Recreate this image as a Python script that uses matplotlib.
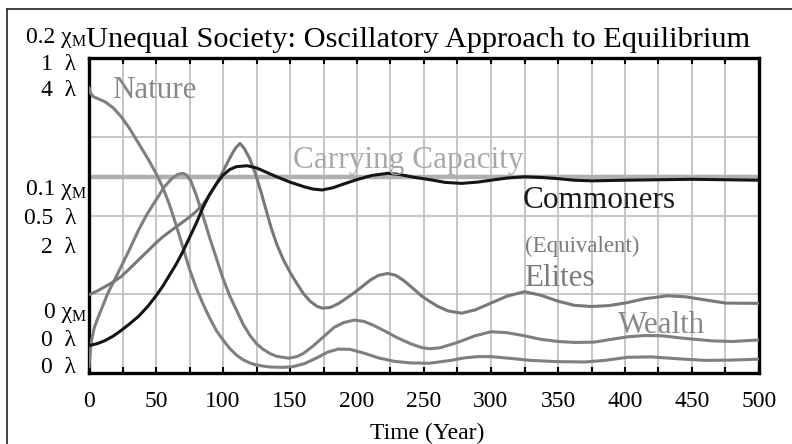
import numpy as np
import matplotlib.pyplot as plt
from matplotlib.lines import Line2D

plt.rcParams['font.family'] = ['Liberation Serif', 'DejaVu Serif']

# values
# commoners and elites in chi_M, nature and wealth in lambda
commoner_years = [0, 6, 12, 18, 24, 30, 37, 44, 50, 55, 60, 65, 70, 75, 80, 85, 90, 95, 100, 105,
                  110, 118, 125, 132, 140, 150, 160, 167, 174, 182, 190, 200, 211, 223, 232, 243,
                  254, 266, 278, 290, 300, 312, 325, 337, 350, 362, 375, 400, 450, 500]
commoners = [0.0174, 0.0186, 0.0206, 0.0234, 0.027, 0.031, 0.036, 0.0424, 0.049, 0.055, 0.062,
             0.069, 0.077, 0.086, 0.095, 0.105, 0.1134, 0.12, 0.1256, 0.1292, 0.131, 0.1316,
             0.1302, 0.1276, 0.1246, 0.1212, 0.1184, 0.1168, 0.1162, 0.1176, 0.12, 0.1228,
             0.1254, 0.1268, 0.126, 0.1242, 0.1228, 0.121, 0.1204, 0.1212, 0.1224, 0.1238,
             0.1246, 0.1242, 0.1234, 0.1224, 0.122, 0.1224, 0.123, 0.1224]

elite_years = [0, 6, 12, 18, 24, 30, 37, 44, 50, 55, 60, 67, 75, 80, 85, 90, 95, 100, 105, 109,
               112.7, 116, 120, 124, 128, 132, 136, 140, 145, 150, 155, 160, 165, 170, 174, 180,
               186, 192, 198, 204, 210, 216, 223, 229, 235, 242, 248, 254, 260, 268, 278, 288,
               300, 312, 325, 337, 350, 362, 375, 388, 400, 415, 432, 445, 460, 475, 500]
elites = [0.0496, 0.052, 0.0548, 0.0578, 0.0612, 0.066, 0.0718, 0.0776, 0.0826, 0.0864, 0.0896,
          0.094, 0.099, 0.1026, 0.107, 0.113, 0.12, 0.128, 0.1364, 0.1424, 0.1458, 0.1424, 0.136,
          0.127, 0.116, 0.104, 0.092, 0.082, 0.072, 0.064, 0.057, 0.0504, 0.0456, 0.0424, 0.0412,
          0.0416, 0.044, 0.0474, 0.051, 0.055, 0.059, 0.062, 0.0632, 0.062, 0.0586, 0.0536, 0.049,
          0.0456, 0.0424, 0.0394, 0.038, 0.04, 0.0444, 0.0488, 0.0516, 0.0494, 0.0456, 0.043,
          0.0422, 0.0428, 0.0444, 0.0472, 0.049, 0.0484, 0.0464, 0.0444, 0.0442]

nature_years = [0, 1, 3, 6, 12, 18, 24, 30, 37, 44, 50, 55, 60, 65, 70, 75, 80, 85, 90, 95, 100,
                105, 110, 115, 120, 125, 135, 145, 152, 161, 170, 178, 186, 195, 206, 216, 228,
                240, 254, 270, 280, 290, 300, 313, 330, 350, 370, 385, 402, 420, 440, 460, 480, 500]
nature = [0.905, 0.89, 0.878, 0.872, 0.861, 0.842, 0.814, 0.778, 0.729, 0.68, 0.634, 0.59, 0.535,
          0.47, 0.40, 0.33, 0.27, 0.22, 0.175, 0.135, 0.105, 0.078, 0.057, 0.042, 0.032, 0.025,
          0.019, 0.018, 0.02, 0.03, 0.048, 0.066, 0.076, 0.075, 0.062, 0.048, 0.037, 0.032, 0.031,
          0.04, 0.048, 0.052, 0.052, 0.047, 0.04, 0.036, 0.035, 0.04, 0.05, 0.051, 0.045, 0.04,
          0.041, 0.044]

wealth_years = [0, 1, 2, 4, 7, 10, 14, 19, 24, 30, 37, 43, 50, 56, 62, 66, 70, 73, 76, 80, 85, 90,
                95, 100, 105, 110, 115, 120, 125, 130, 135, 140, 149, 155, 160, 167, 175, 183, 190,
                198, 205, 212, 220, 230, 240, 248, 254, 262, 275, 288, 300, 312, 325, 337, 350,
                363, 377, 390, 402, 415, 428, 440, 452, 465, 480, 500]
wealth = [0.08, 0.28, 0.42, 0.58, 0.716, 0.84, 1.012, 1.18, 1.352, 1.56, 1.816, 2.008, 2.196,
          2.36, 2.472, 2.52, 2.536, 2.512, 2.44, 2.26, 2.0, 1.72, 1.46, 1.2, 0.98, 0.8, 0.62, 0.48,
          0.372, 0.3, 0.248, 0.212, 0.188, 0.208, 0.248, 0.34, 0.46, 0.58, 0.64, 0.672, 0.656,
          0.608, 0.54, 0.448, 0.372, 0.324, 0.308, 0.32, 0.388, 0.472, 0.524, 0.512, 0.472, 0.428,
          0.4, 0.388, 0.392, 0.428, 0.46, 0.476, 0.472, 0.448, 0.428, 0.408, 0.4, 0.42]

carrying_capacity = 0.1246  # chi_M

chi_max, nature_max, wealth_max = 0.2, 1, 4

W, H = 792, 444
fig = plt.figure(figsize=(W / 100, H / 100), dpi=100)

def fx(x):
    return x / W

def fy(y):
    return 1 - y / H

ax = fig.add_axes([fx(89), fy(373), (759 - 89) / W, (373 - 58) / H])
ax.set_xlim(0, 500)
ax.set_ylim(0, chi_max)
ax.set_xticks(np.arange(0, 501, 50))
ax.set_xticks(np.arange(25, 500, 50), minor=True)
ax.set_yticks([0.05, 0.1, 0.15])
ax.set_yticklabels([])
ax.grid(True, which='both', axis='x', color='#c2c2c2', lw=1.3)
ax.grid(True, axis='y', color='#c2c2c2', lw=1.3)
ax.set_axisbelow(True)
ax.tick_params(axis='x', which='both', direction='in', length=4, width=1.5, top=True,
               labelsize=17, pad=13)
ax.tick_params(axis='y', length=0)
for s in ax.spines.values():
    s.set_linewidth(2.4)
    s.set_color('black')

ax.axhline(carrying_capacity, color='#b0b0b0', lw=3.2, zorder=2)

axn = ax.twinx()
axn.set_ylim(0, nature_max)
axw = ax.twinx()
axw.set_ylim(0, wealth_max)
axp = ax.twinx()
axp.set_ylim(0, chi_max)
for a in (axn, axw, axp):
    a.set_yticks([])
    for s in a.spines.values():
        s.set_visible(False)

axn.plot(nature_years, nature, color='#7f7f7f', lw=2.2)
axw.plot(wealth_years, wealth, color='#7f7f7f', lw=2.2)
axp.plot(elite_years, elites, color='#787878', lw=2.2)
axp.plot(commoner_years, commoners, color='#151515', lw=2.2)

# series labels
axp.text(17, 0.1746, 'Nature', color='#888888', fontsize=22.3, va='baseline')
axp.text(152, 0.1302, 'Carrying Capacity', color='#a8a8a8', fontsize=22.5, va='baseline')
axp.text(324, 0.1048, 'Commoners', color='#1a1a1a', fontsize=22.5, va='baseline')
axp.text(325, 0.0768, '(Equivalent)', color='#7a7a7a', fontsize=16.5, va='baseline')
axp.text(325, 0.0552, 'Elites', color='#7a7a7a', fontsize=22.3, va='baseline')
axp.text(395, 0.0254, 'Wealth', color='#888888', fontsize=22.3, va='baseline')

fig.text(fx(86), fy(47), 'Unequal Society: Oscillatory Approach to Equilibrium',
         fontsize=21.9, va='baseline', ha='left')
fig.text(fx(427), fy(433), 'Time (Year)', fontsize=17, ha='center', va='center')

# stacked scale labels on the left
scale_labels = [('0.2', 'chi', 37), ('1', 'lam', 64), ('4', 'lam', 91),
                ('0.1', 'chi', 189), ('0.5', 'lam', 218), ('2', 'lam', 247),
                ('0', 'chi', 312), ('0', 'lam', 340), ('0', 'lam', 367)]
for num, unit, yy in scale_labels:
    if unit == 'chi':
        fig.text(fx(72), fy(yy), num + ' χ', fontsize=17, ha='right', va='center')
        fig.text(fx(72), fy(yy + 5), 'M', fontsize=11.5, ha='left', va='center')
    else:
        fig.text(fx(76), fy(yy), num + '  λ', fontsize=17, ha='right', va='center')

# frame round the figure
fig.add_artist(Line2D([fx(7), fx(7)], [0, fy(9)], color='#333333', lw=1.3))
fig.add_artist(Line2D([fx(7), 1], [fy(9), fy(9)], color='#333333', lw=1.3))

fig.savefig('out.png', dpi=100)
